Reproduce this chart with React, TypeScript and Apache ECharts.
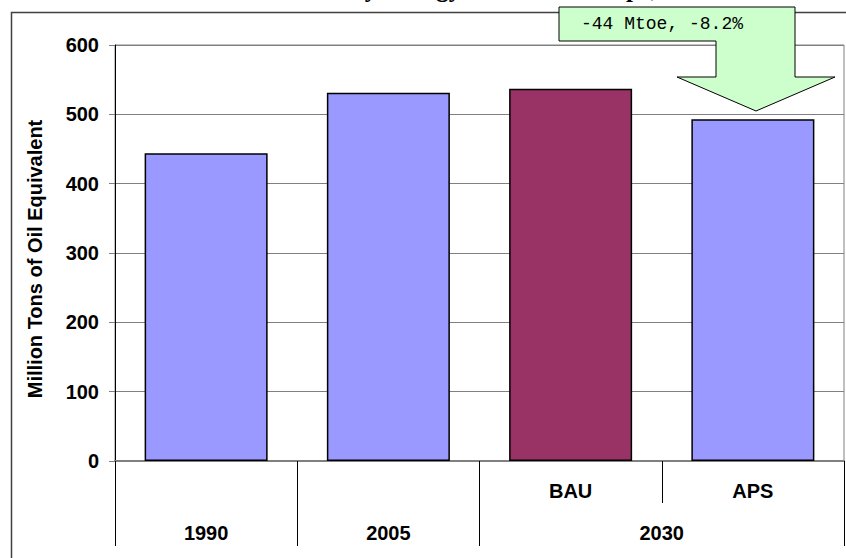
import React, { useEffect, useRef } from 'react';
import * as echarts from 'echarts';

const scenarioLabels = ['', '', 'BAU', 'APS'];
const yearLabels = ['1990', '2005', '2030'];
const yearLabelPositions = [0.5, 1.5, 3];
const yearSeparators = [0, 1, 2, 4];
const energyValues = [444, 531, 537, 493];
const barColors = ['#9999FF', '#9999FF', '#993366', '#9999FF'];
const yMin = 0;
const yMax = 600;
const yInterval = 100;
const yAxisName = 'Million Tons of Oil Equivalent';
const calloutText = '-44 Mtoe, -8.2%';
const titleText = 'Primary Energy Demand: Europe, BAU vs APS';

export default function App() {
  const ref = useRef<HTMLDivElement>(null);
  useEffect(() => {
    if (!ref.current) return;
    const chart = echarts.init(ref.current, undefined, { renderer: 'svg' });
    const labelFont = {
      fontFamily: '"Liberation Sans", Arial, sans-serif',
      fontWeight: 'bold' as const,
      fontSize: 20,
      color: '#000',
    };
    chart.setOption({
      animation: false,
      backgroundColor: '#fff',
      grid: {
        left: 115,
        right: 2,
        top: 45,
        bottom: 97,
        show: true,
        borderColor: '#808080',
        borderWidth: 1,
        backgroundColor: 'transparent',
        containLabel: false,
        outerBoundsMode: 'none',
      },
      xAxis: [
        {
          type: 'category',
          data: scenarioLabels,
          position: 'bottom',
          axisLine: { show: true, lineStyle: { color: '#808080', width: 2 } },
          axisTick: { show: true, interval: 0, length: 42, lineStyle: { color: '#000', width: 1 } },
          axisLabel: { ...labelFont, margin: 20, interval: 0 },
          splitLine: { show: false },
        },
        {
          type: 'value',
          min: 0,
          max: 4,
          position: 'bottom',
          axisLine: { show: false },
          axisTick: {
            show: true,
            customValues: yearSeparators,
            length: 85,
            lineStyle: { color: '#000', width: 1 },
          },
          axisLabel: {
            ...labelFont,
            margin: 62,
            customValues: yearLabelPositions,
            formatter: (v: number) => {
              const i = yearLabelPositions.indexOf(v);
              return i >= 0 ? yearLabels[i] : '';
            },
          },
          splitLine: { show: false },
        },
      ],
      yAxis: {
        type: 'value',
        min: yMin,
        max: yMax,
        interval: yInterval,
        name: yAxisName,
        nameLocation: 'middle',
        nameGap: 70,
        nameRotate: 90,
        nameTextStyle: {
          fontFamily: '"Liberation Sans", Arial, sans-serif',
          fontWeight: 'bold',
          fontSize: 20,
          color: '#000',
          padding: [0, 12, 0, 0],
        },
        axisLine: { show: true, lineStyle: { color: '#000', width: 1 } },
        axisTick: { show: true, length: 6, lineStyle: { color: '#808080', width: 1 } },
        axisLabel: { ...labelFont, margin: 16 },
        splitLine: { show: true, lineStyle: { color: '#808080', width: 1 } },
      },
      series: [
        {
          type: 'bar',
          xAxisIndex: 0,
          yAxisIndex: 0,
          barWidth: '67.5%',
          data: energyValues.map((v, i) => ({ value: v, itemStyle: { color: barColors[i] } })),
          itemStyle: { borderColor: '#000', borderWidth: 1.5 },
          z: 3,
        },
      ],
      graphic: [
        {
          type: 'rect',
          shape: { x: 11.5, y: 12.5, width: 860, height: 620 },
          style: { fill: 'none', stroke: '#404040', lineWidth: 1.5 },
          silent: true,
          z: 1,
        },
        {
          type: 'text',
          style: {
            text: titleText,
            x: 287,
            y: -12,
            textAlign: 'left',
            textVerticalAlign: 'middle',
            font: 'bold 25px "Liberation Serif", "Times New Roman", serif',
            fill: '#000',
          },
          silent: true,
          z: 2,
        },
        {
          type: 'polygon',
          shape: {
            points: [
              [559, 7],
              [795, 7],
              [795, 77],
              [835, 77],
              [756, 111],
              [677, 77],
              [716, 77],
              [716, 41],
              [559, 41],
            ],
          },
          style: { fill: '#CCFFCC', stroke: '#000', lineWidth: 1 },
          silent: true,
          z: 10,
        },
        {
          type: 'text',
          style: {
            text: calloutText,
            x: 581,
            y: 24,
            textAlign: 'left',
            textVerticalAlign: 'middle',
            font: '18px "Liberation Mono", "DejaVu Sans Mono", monospace',
            fill: '#000',
          },
          silent: true,
          z: 11,
        },
      ],
    });
    return () => chart.dispose();
  }, []);
  return (
    <div
      ref={ref}
      style={{ position: 'fixed', left: 0, top: 0, width: 846, height: 558 }}
    />
  );
}
